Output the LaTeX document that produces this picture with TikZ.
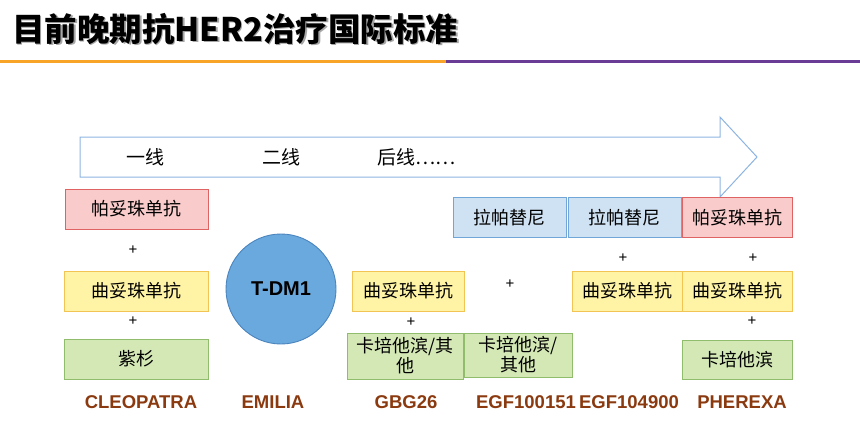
\documentclass[tikz,border=0pt]{standalone}
\usepackage{fontspec}
\usepackage{xcolor}
\usetikzlibrary{positioning}
\newfontfamily\cjk{Noto Sans CJK SC}
\newfontfamily\latinsans{Liberation Sans}

\definecolor{redfill}{HTML}{F9CBCB}
\definecolor{redline}{HTML}{E06363}
\definecolor{yellowfill}{HTML}{FFF4A6}
\definecolor{yellowline}{HTML}{F2C453}
\definecolor{greenfill}{HTML}{D4E8B6}
\definecolor{greenline}{HTML}{8FBD6C}
\definecolor{bluefill}{HTML}{CFE2F3}
\definecolor{blueline}{HTML}{70A6D8}
\definecolor{tdmfill}{HTML}{6AA9DD}
\definecolor{tdmline}{HTML}{4A84BE}
\definecolor{arrowline}{HTML}{8DB4E2}
\definecolor{trialbrown}{HTML}{8B3A10}
\definecolor{barorange}{HTML}{F7A428}
\definecolor{barpurple}{HTML}{6A3C96}

\begin{document}
\begin{tikzpicture}[
            x=1pt, y=-1pt,
            box/.style={rectangle, draw, line width=0.9pt, minimum width=110, minimum height=40, align=center, inner sep=2pt, font=\cjk\fontsize{18}{20}\selectfont},
            redbox/.style={box, fill=redfill, draw=redline},
            yellowbox/.style={box, fill=yellowfill, draw=yellowline},
            greenbox/.style={box, fill=greenfill, draw=greenline},
            bluebox/.style={box, fill=bluefill, draw=blueline},
            plus/.style={font=\latinsans\fontsize{15}{17}\selectfont, inner sep=0pt},
            trial/.style={font=\latinsans\bfseries\fontsize{18.5}{21}\selectfont, text=trialbrown},
            linetext/.style={font=\cjk\fontsize{19}{22}\selectfont, inner sep=0pt}
        ]
            \useasboundingbox (0,0) rectangle (860,444);

            % Title
            \node[anchor=west, inner sep=0pt, text=black!35, font=\cjk\bfseries\fontsize{32.5}{36}\selectfont] at (13.5,30.5) {目前晚期抗HER2治疗国际标准};
            \node[anchor=west, inner sep=0pt, font=\cjk\bfseries\fontsize{32.5}{36}\selectfont] (title) at (12,29) {目前晚期抗HER2治疗国际标准};
            \draw[barorange, line width=3pt] (0,62) -- (446,62);
            \draw[barpurple, line width=3pt] (446,62) -- (860,62);

            % Big arrow
            \draw[arrowline, fill=white, line width=1pt, line join=miter]
                (80,137) -- (720,137) -- (720,117) -- (757,157) -- (720,197) -- (720,177) -- (80,177) -- cycle;
            \node[linetext] (first) at (145,157) {一线};
            \node[linetext] (second) at (281,157) {二线};
            \node[linetext, anchor=west] (later) at (377,157) {后线……};

            % CLEOPATRA
            \node[redbox, minimum width=143] (cleoP) at (136.5,209) {帕妥珠单抗};
            \node[plus] (cleoPlusA) at (133,250) {+};
            \node[yellowbox, minimum width=144] (cleoH) at (136,291) {曲妥珠单抗};
            \node[plus] (cleoPlusB) at (133,321) {+};
            \node[greenbox, minimum width=144] (cleoT) at (136,359) {紫杉};
            \node[trial] (cleo) at (141,402) {CLEOPATRA};

            % EMILIA
            \node[circle, draw=tdmline, fill=tdmfill, line width=0.9pt, minimum size=110, font=\latinsans\bfseries\fontsize{20}{24}\selectfont] (tdm) at (281,289) {T-DM1};
            \node[trial] (emilia) at (273,402) {EMILIA};

            % GBG26
            \node[yellowbox, minimum width=112] (gbgH) at (408,291) {曲妥珠单抗};
            \node[plus] (gbgPlus) at (411,322) {+};
            \node[greenbox, minimum width=116, minimum height=46] (gbgC) at (405,356) {卡培他滨/其\\他};
            \node[trial] (gbg) at (406,402) {GBG26};

            % EGF100151
            \node[bluebox, minimum width=113] (egfaL) at (509.5,217.5) {拉帕替尼};
            \node[plus] (egfaPlus) at (510,284) {+};
            \node[greenbox, minimum width=108, minimum height=44] (egfaC) at (518,355) {卡培他滨/\\其他};
            \node[trial] (egfa) at (526,402) {EGF100151};

            % EGF104900
            \node[bluebox, minimum width=113] (egfbL) at (624.5,217.5) {拉帕替尼};
            \node[plus] (egfbPlus) at (623,258) {+};
            \node[yellowbox, minimum width=110] (egfbH) at (627,291) {曲妥珠单抗};
            \node[trial] (egfb) at (629,402) {EGF104900};

            % PHEREXA
            \node[redbox, minimum width=110] (phxP) at (737,217.5) {帕妥珠单抗};
            \node[plus] (phxPlusA) at (753,258) {+};
            \node[yellowbox, minimum width=110] (phxH) at (737,291) {曲妥珠单抗};
            \node[plus] (phxPlusB) at (752,321) {+};
            \node[greenbox, minimum width=110, minimum height=39] (phxC) at (737,359.5) {卡培他滨};
            \node[trial] (phx) at (742,402) {PHEREXA};
        \end{tikzpicture}
\end{document}
